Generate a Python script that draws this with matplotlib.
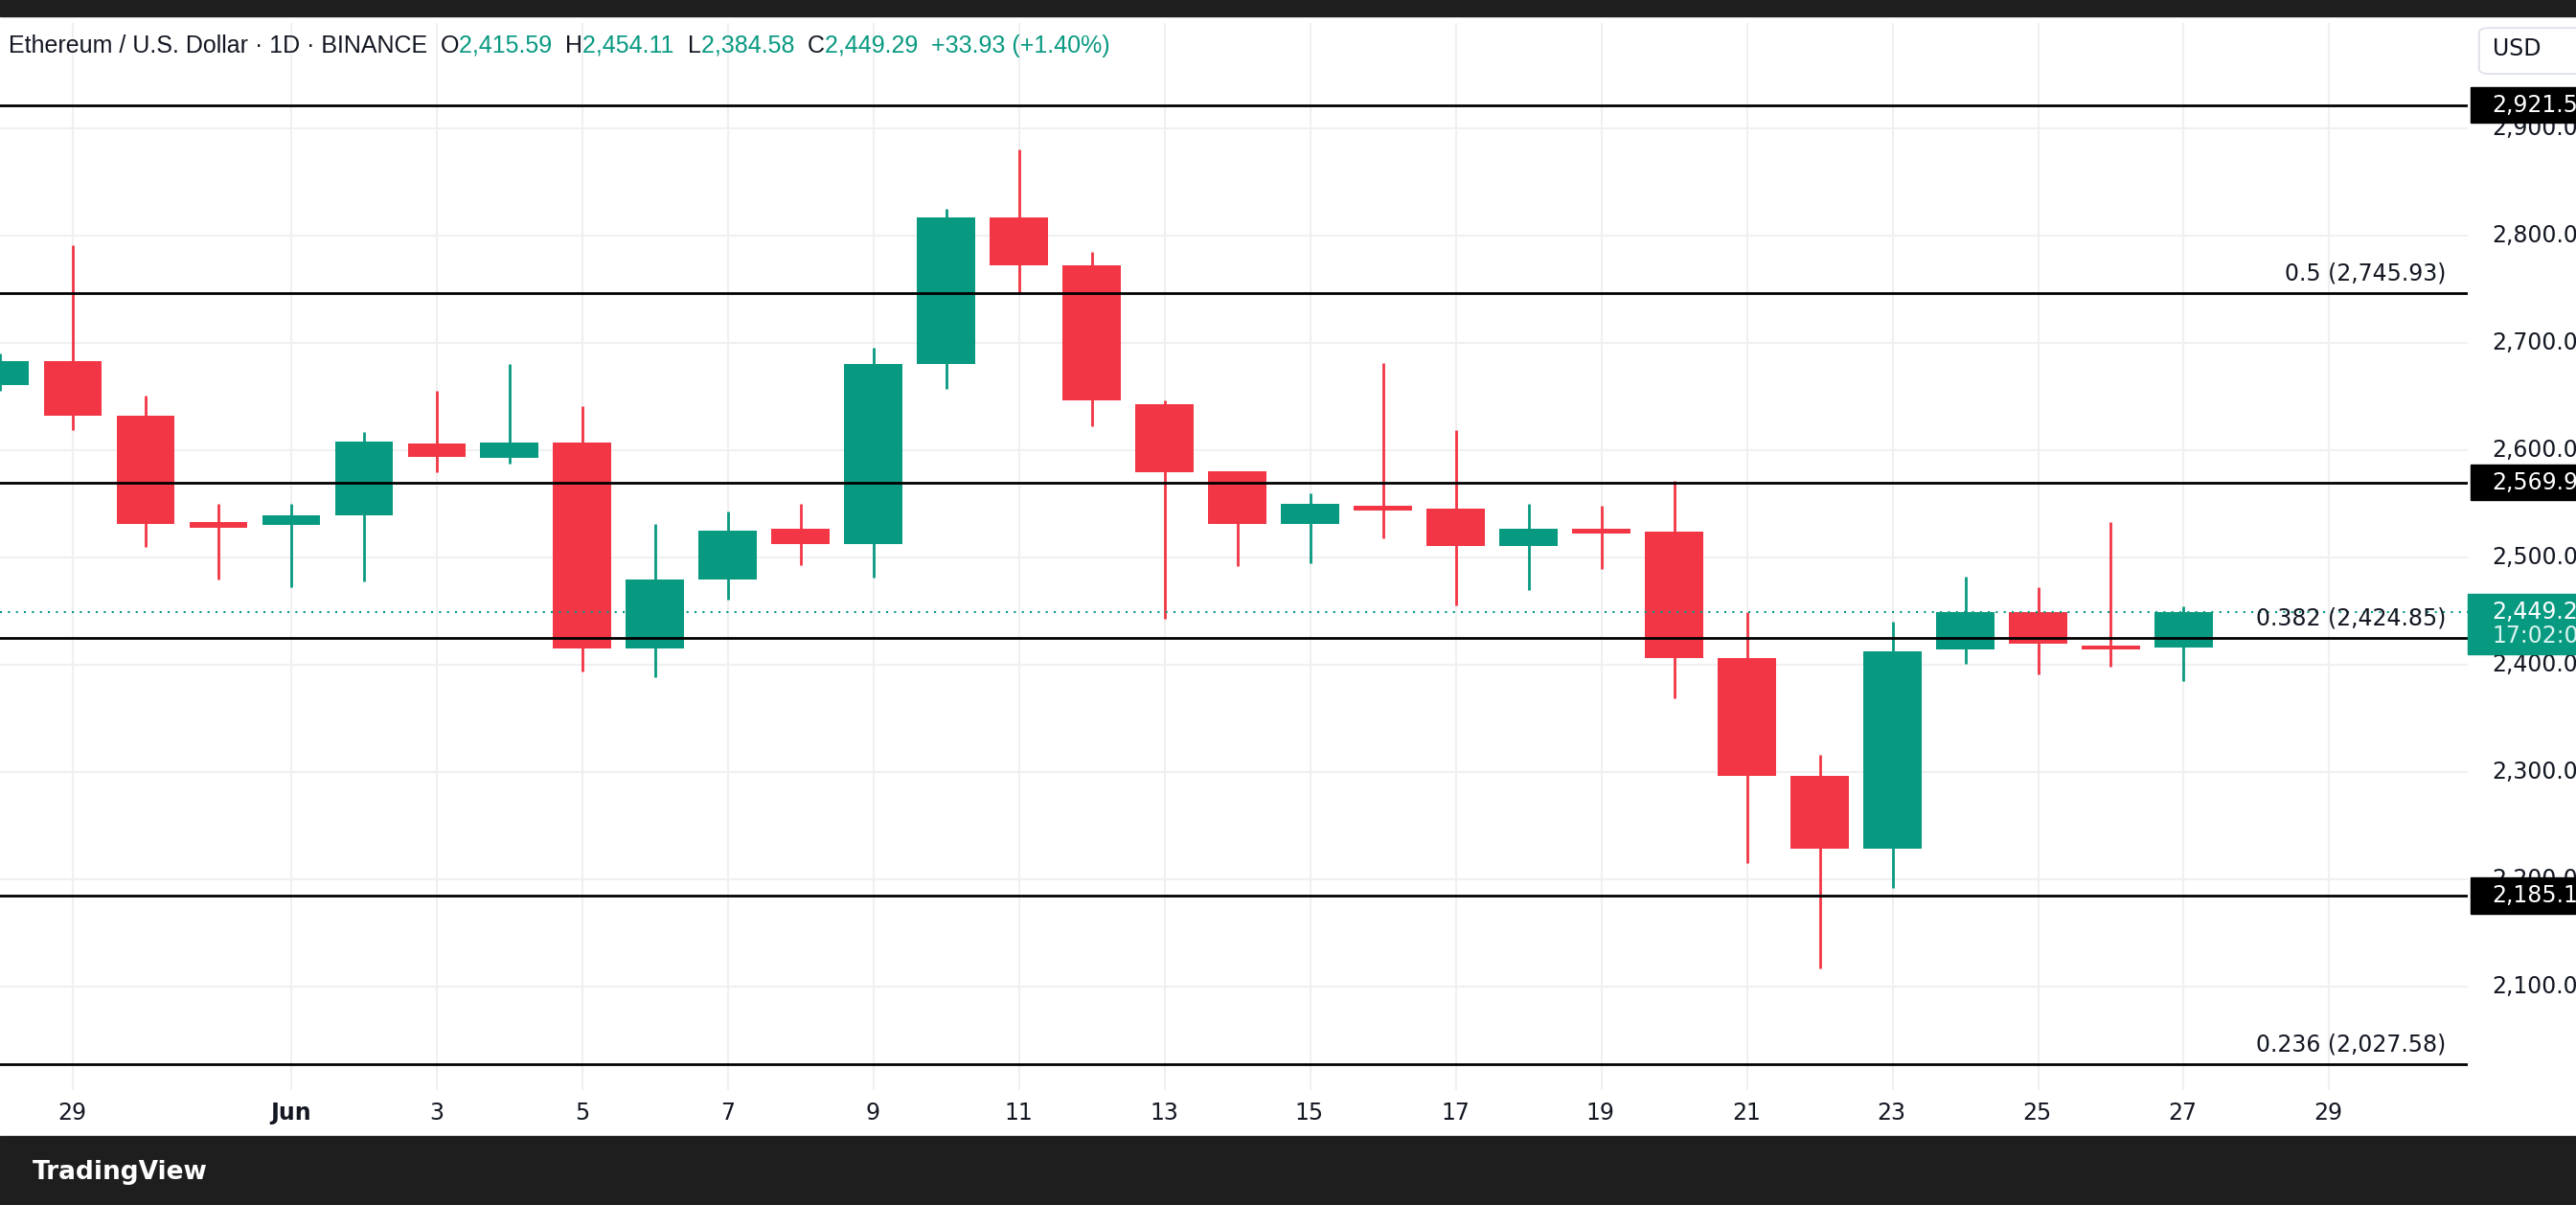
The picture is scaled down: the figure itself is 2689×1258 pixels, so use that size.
import matplotlib
matplotlib.use("Agg")
import matplotlib.pyplot as plt
from matplotlib.patches import Rectangle

# ---- data ----
day_index = list(range(-1, 30))
opens  = [2661,2683,2632,2533,2530,2539,2606,2593,2607,2415,2479,2527,2512,2680,2817,2772,2643,2580,2531,2548,2545,2511,2527,2524,2406,2296,2229,2414,2449,2418,2415.59]
highs  = [2690,2791,2651,2550,2550,2617,2655,2680,2641,2531,2543,2550,2695,2825,2880,2785,2646,2580,2560,2681,2619,2550,2548,2571,2449,2316,2440,2482,2472,2533,2454.11]
lows   = [2655,2619,2510,2479,2472,2478,2579,2587,2394,2388,2461,2493,2481,2657,2747,2622,2443,2492,2495,2518,2455,2470,2489,2369,2215,2117,2192,2401,2391,2398,2384.58]
closes = [2683,2632,2531,2528,2539,2608,2594,2607,2415,2479,2525,2512,2680,2817,2772,2646,2579,2531,2550,2544,2511,2527,2522,2406,2296,2229,2412,2449,2420,2414,2449.29]
tick_pos = [0,3,5,7,9,11,13,15,17,19,21,23,25,27,29,31]
tick_labels = ["29","Jun","3","5","7","9","11","13","15","17","19","21","23","25","27","29"]
yticks = [2100,2200,2300,2400,2500,2600,2700,2800,2900]
fib_levels = [2921.57,2745.93,2569.94,2424.85,2185.15,2027.58]
fib_text = {2745.93:"0.5 (2,745.93)", 2424.85:"0.382 (2,424.85)", 2027.58:"0.236 (2,027.58)"}
axis_tags = [2921.57,2569.94,2185.15]
last_price = 2449.29
header_parts = [("Ethereum / U.S. Dollar · 1D · BINANCE  ", "dark"), ("O", "dark"), ("2,415.59  ", "g"),
                ("H", "dark"), ("2,454.11  ", "g"), ("L", "dark"), ("2,384.58  ", "g"),
                ("C", "dark"), ("2,449.29  ", "g"), ("+33.93 (+1.40%)", "g")]

GREEN = "#089981"; RED = "#F23645"; DARK = "#131722"
W, H = 1568, 734
def fx(x): return x / W
def fy(y): return 1 - y / H

fig = plt.figure(figsize=(26.89, 12.58), dpi=100)
fig.patch.set_facecolor("white")
ax = fig.add_axes([0, fy(664), fx(1502), fy(14) - fy(664)])
ax.set_xlim(-1.0, 32.9)
ax.set_ylim(2003.6, 2998)
for s in ax.spines.values():
    s.set_visible(False)
ax.set_xticks([]); ax.set_yticks([])
for t in tick_pos:
    ax.axvline(t, color="#f0f0f0", lw=1.5, zorder=0)
for y in yticks:
    ax.axhline(y, color="#f0f0f0", lw=1.5, zorder=0)

bw = 0.8
for d, o, h, l, c in zip(day_index, opens, highs, lows, closes):
    col = GREEN if c >= o else RED
    ax.plot([d, d], [l, h], color=col, lw=2, zorder=2, solid_capstyle="butt")
    ax.add_patch(Rectangle((d - bw/2, min(o, c)), bw, max(abs(c - o), 1.5), color=col, zorder=3, lw=0))

for lv in fib_levels:
    ax.axhline(lv, color="black", lw=2, zorder=4)
    if lv in fib_text:
        ax.text(32.6, lv + 8, fib_text[lv], ha="right", va="bottom", fontsize=17, color=DARK, zorder=5)
ax.axhline(last_price, color=GREEN, lw=1.5, ls=(0, (1, 3)), zorder=4)

def ydisp(v):
    return 78 + (2900 - v) * 0.6538
for v in yticks:
    fig.text(fx(1517), fy(ydisp(v)), f"{v:,.2f}", fontsize=17, color=DARK, va="center", ha="left")
for v in axis_tags:
    yy = ydisp(v)
    fig.patches.append(Rectangle((fx(1504), fy(yy + 11)), 1 - fx(1504), fy(yy - 11) - fy(yy + 11),
                                 transform=fig.transFigure, color="black", zorder=5))
    fig.text(fx(1517), fy(yy), f"{v:,.2f}", fontsize=17, color="white", va="center", ha="left", zorder=6)
yy = ydisp(last_price)
fig.patches.append(Rectangle((fx(1502), fy(yy + 26)), 1 - fx(1502), fy(yy - 11) - fy(yy + 26),
                             transform=fig.transFigure, color=GREEN, zorder=5))
fig.text(fx(1517), fy(yy), f"{last_price:,.2f}", fontsize=17, color="white", va="center", ha="left", zorder=6)
fig.text(fx(1517), fy(yy + 15), "17:02:04", fontsize=17, color="#d8f3ee", va="center", ha="left", zorder=6)

fig.patches.append(matplotlib.patches.FancyBboxPatch((fx(1509), fy(45)), fx(70), fy(17) - fy(45),
    boxstyle="round,pad=0,rounding_size=0.004", transform=fig.transFigure, fc="white", ec="#e0e3eb", lw=1.5))
fig.text(fx(1517), fy(30), "USD", fontsize=17, color=DARK, va="center", ha="left")

for p, lab in zip(tick_pos, tick_labels):
    xd = 44 + p * 44.3
    fig.text(fx(xd), fy(678), lab, fontsize=17, color=DARK, ha="center", va="center",
             fontweight="bold" if lab == "Jun" else "normal")

fig.patches.append(Rectangle((0, fy(10)), 1, 1 - fy(10), transform=fig.transFigure, color="#1e1e1e"))
renderer = fig.canvas.get_renderer()
xpix = fx(5) * fig.bbox.width
for txt, kind in header_parts:
    t = fig.text(xpix / fig.bbox.width, fy(28), txt, fontsize=18, family="Liberation Sans",
                 color=DARK if kind == "dark" else GREEN, va="center")
    xpix += t.get_window_extent(renderer).width

fig.patches.append(Rectangle((0, 0), 1, fy(692), transform=fig.transFigure, color="#1e1e1e"))
fig.text(fx(20), fy(714), "TradingView", fontsize=19, color="white", va="center", fontweight="bold")

fig.savefig("out.png", dpi=100, facecolor="white")
